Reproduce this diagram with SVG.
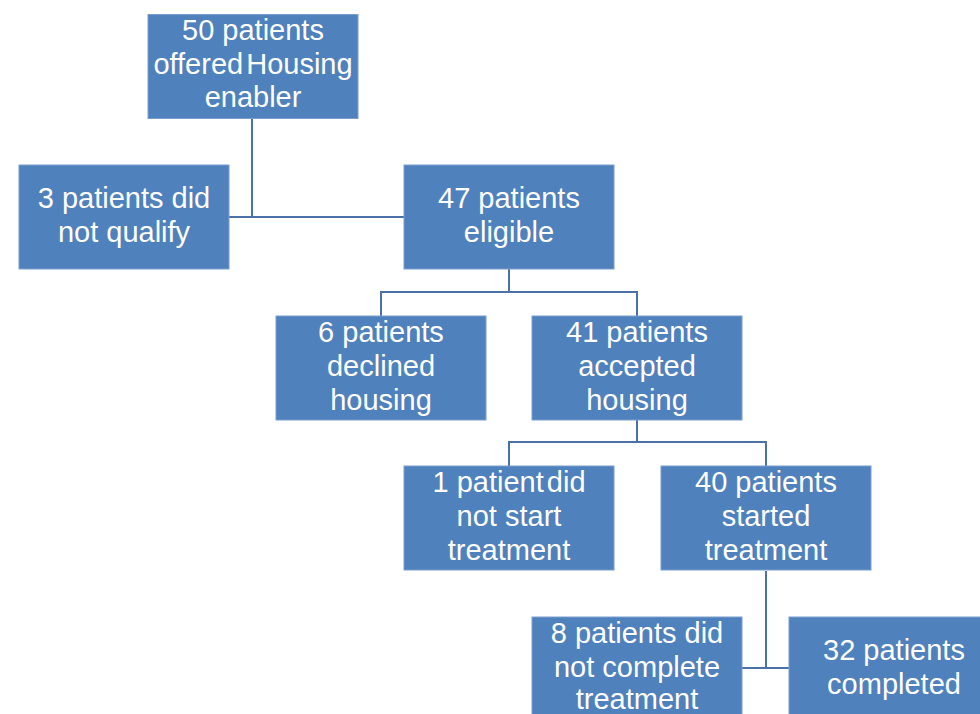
<svg xmlns="http://www.w3.org/2000/svg" width="980" height="714" viewBox="0 0 980 714">
<style>
.box{fill:#4F81BD;stroke:#7A9FCF;stroke-width:1}
.t{font-family:"Liberation Sans",Arial,sans-serif;font-size:29px;fill:#FFFFFF;text-anchor:middle}
.c{fill:none;stroke:#4A72A6;stroke-width:2}
</style>
<rect width="980" height="714" fill="#FFFFFF"/>
<g id="connectors">
<polyline class="c" points="252,119 252,217"/>
<polyline class="c" points="229,217 404,217"/>
<polyline class="c" points="509,269 509,292"/>
<polyline class="c" points="381,316 381,292 637,292 637,316"/>
<polyline class="c" points="637,420 637,442"/>
<polyline class="c" points="509,466 509,442 766,442 766,466"/>
<polyline class="c" points="766,571 766,668"/>
<polyline class="c" points="742,668 789,668"/>
</g>
<g id="n1">
<rect class="box" x="148" y="14.5" width="210" height="104"/>
<text class="t" x="253" y="40">50 patients</text>
<text class="t" x="253" y="74">offered<tspan dx="-5"> Housing</tspan></text>
<text class="t" x="253" y="107">enabler</text>
</g>
<g id="n2">
<rect class="box" x="19" y="165" width="210" height="104"/>
<text class="t" x="124" y="208">3 patients did</text>
<text class="t" x="124" y="242">not qualify</text>
</g>
<g id="n3">
<rect class="box" x="404" y="165" width="210" height="104"/>
<text class="t" x="509" y="208">47 patients</text>
<text class="t" x="509" y="242">eligible</text>
</g>
<g id="n4">
<rect class="box" x="276" y="316" width="210" height="104"/>
<text class="t" x="381" y="342">6 patients</text>
<text class="t" x="381" y="376">declined</text>
<text class="t" x="381" y="410">housing</text>
</g>
<g id="n5">
<rect class="box" x="532" y="316" width="210" height="104"/>
<text class="t" x="637" y="342">41 patients</text>
<text class="t" x="637" y="376">accepted</text>
<text class="t" x="637" y="410">housing</text>
</g>
<g id="n6">
<rect class="box" x="404" y="466" width="210" height="104"/>
<text class="t" x="509" y="492">1 patient<tspan dx="-5"> did</tspan></text>
<text class="t" x="509" y="526">not start</text>
<text class="t" x="509" y="560">treatment</text>
</g>
<g id="n7">
<rect class="box" x="661" y="466" width="210" height="104"/>
<text class="t" x="766" y="492">40 patients</text>
<text class="t" x="766" y="526">started</text>
<text class="t" x="766" y="560">treatment</text>
</g>
<g id="n8">
<rect class="box" x="532" y="617" width="210" height="104"/>
<text class="t" x="637" y="643">8 patients did</text>
<text class="t" x="637" y="677">not complete</text>
<text class="t" x="637" y="709">treatment</text>
</g>
<g id="n9">
<rect class="box" x="789" y="617" width="210" height="104"/>
<text class="t" x="894" y="660">32 patients</text>
<text class="t" x="894" y="694">completed</text>
</g>
</svg>
